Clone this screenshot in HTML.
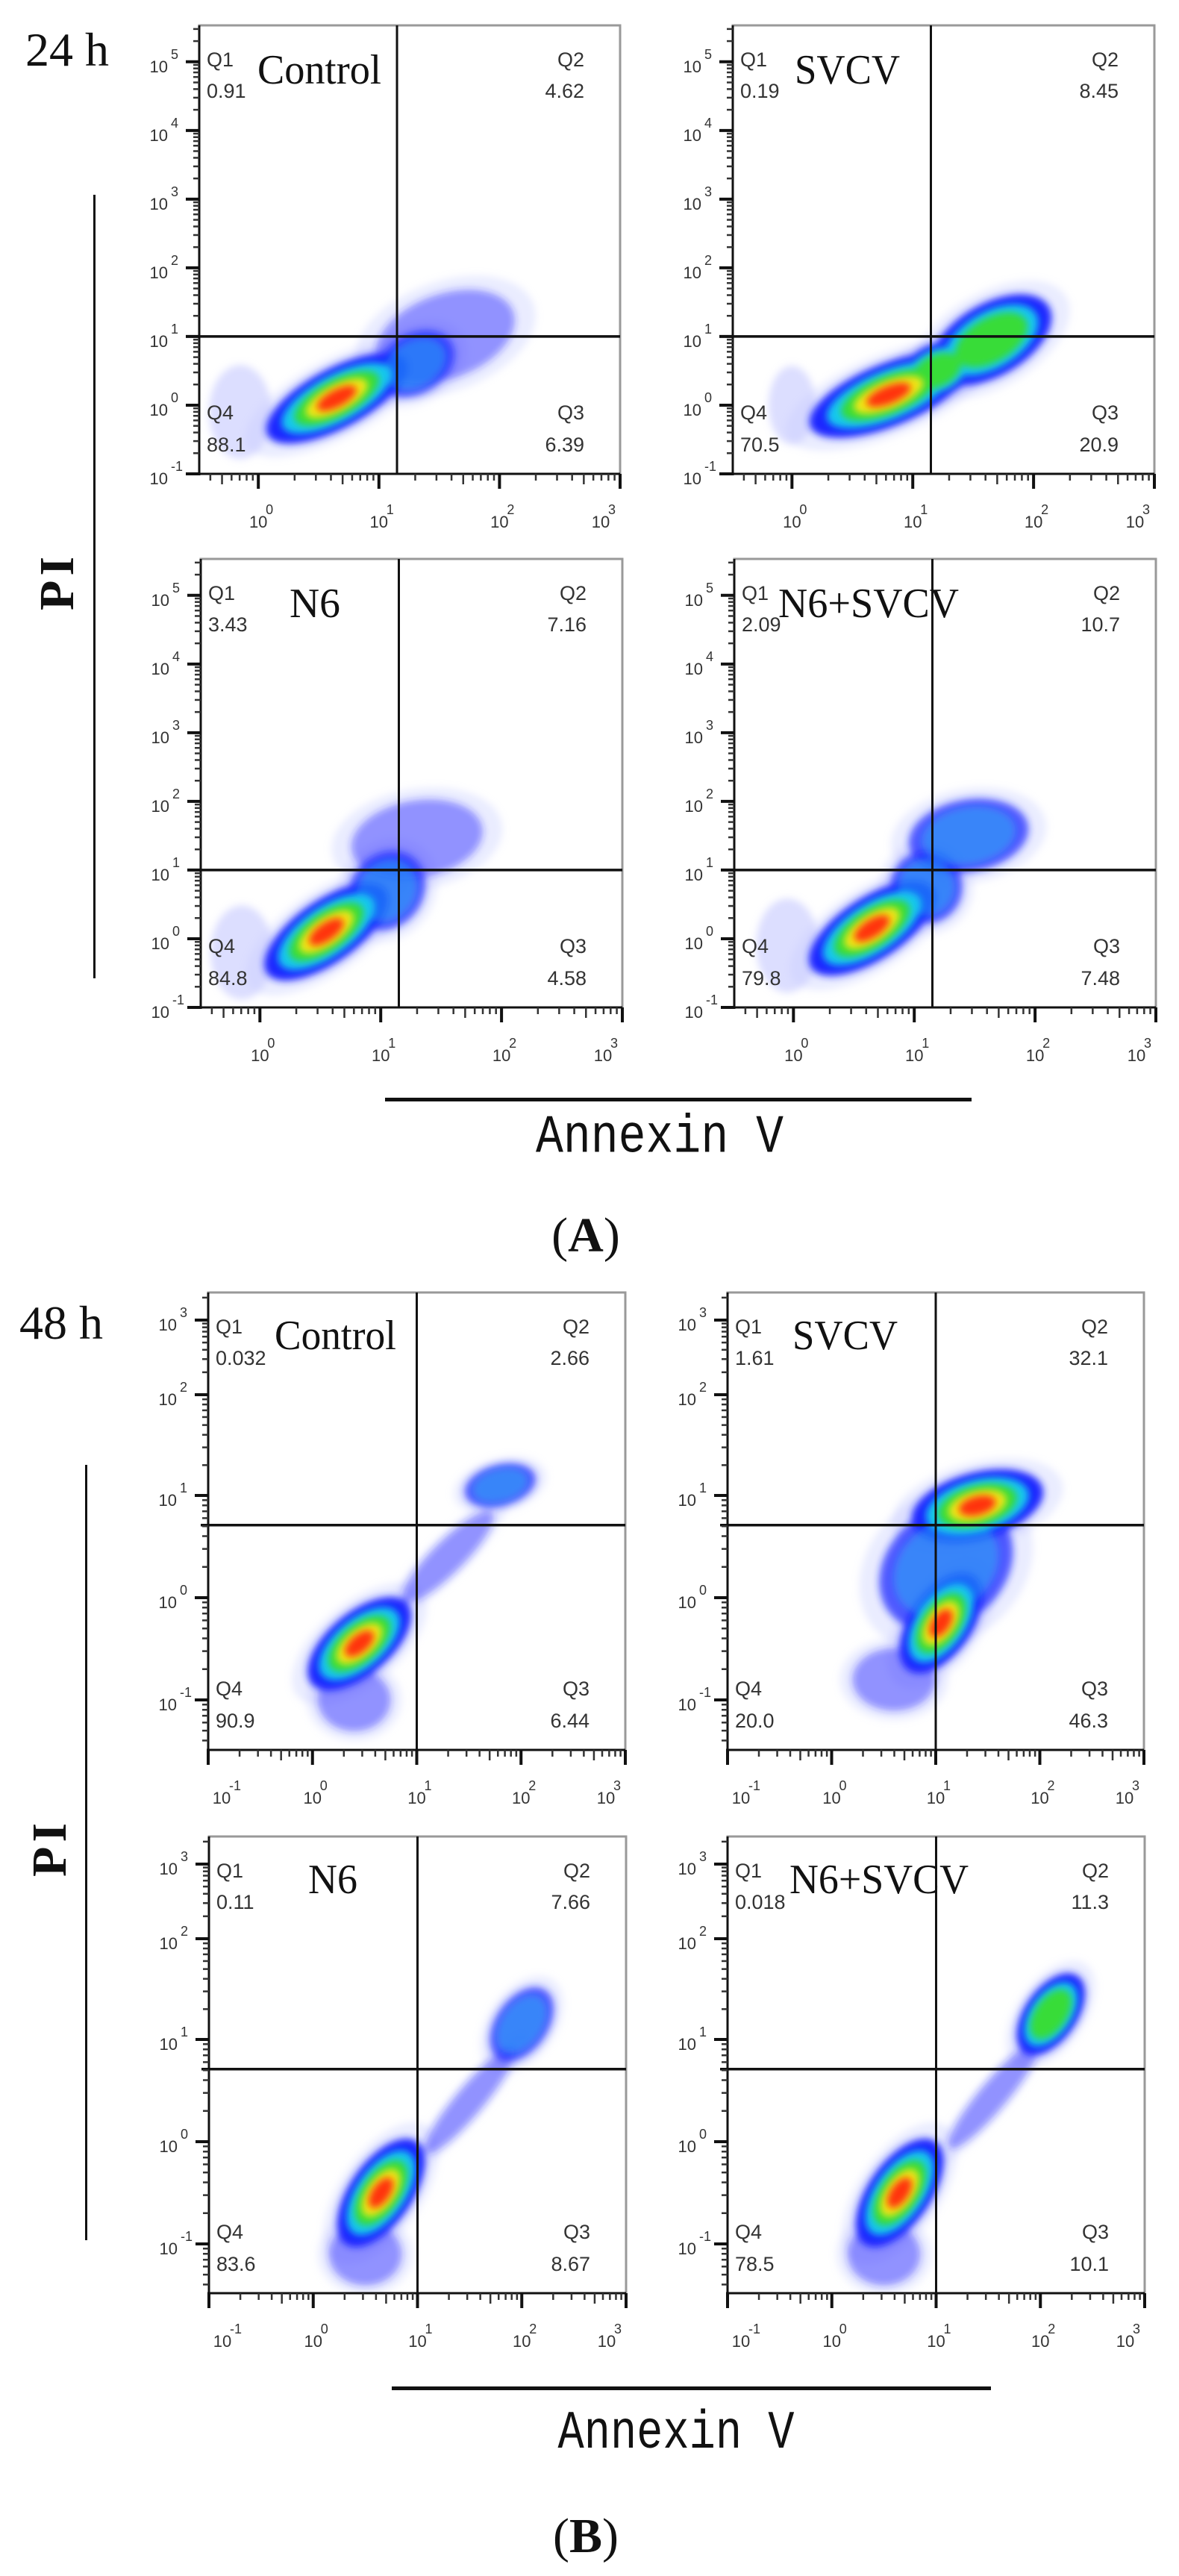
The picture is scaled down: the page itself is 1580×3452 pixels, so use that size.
<!DOCTYPE html>
<html><head><meta charset="utf-8"><style>
html,body{margin:0;padding:0;background:#fff;}
svg{display:block;}
.ser{font-family:"Liberation Serif",serif;}
.san{font-family:"Liberation Sans",sans-serif;}
.mono{font-family:"Liberation Mono",monospace;}
</style></head><body>
<svg id="fig" width="1580" height="3452" viewBox="0 0 1580 3452" xmlns="http://www.w3.org/2000/svg">
<defs>
<filter id="soft" x="-30%" y="-30%" width="160%" height="160%"><feGaussianBlur stdDeviation="5"/></filter>
</defs>
<text class="ser" x="34" y="88" font-size="64" fill="#111">24 h</text>
<text class="ser" x="26" y="1794" font-size="64" fill="#111">48 h</text>
<text class="ser" font-weight="bold" font-size="66" letter-spacing="6" text-anchor="middle" transform="translate(98,779) rotate(-90)" fill="#111">PI</text>
<text class="ser" font-weight="bold" font-size="66" letter-spacing="6" text-anchor="middle" transform="translate(88,2476) rotate(-90)" fill="#111">PI</text>
<rect x="125" y="261" width="3" height="1050" fill="#111"/>
<rect x="114" y="1963" width="3" height="1039" fill="#111"/>
<rect x="516" y="1471" width="786" height="5" fill="#111"/>
<rect x="525" y="3198" width="803" height="5" fill="#111"/>
<text class="mono" x="884" y="1543" font-size="58" text-anchor="middle" textLength="332" lengthAdjust="spacingAndGlyphs" fill="#111" transform="translate(0,-385) scale(1,1.25)">Annexin V</text>
<text class="mono" x="906" y="3280" font-size="58" text-anchor="middle" textLength="317" lengthAdjust="spacingAndGlyphs" fill="#111" transform="translate(0,-820) scale(1,1.25)">Annexin V</text>
<text class="ser" x="785" y="1677" font-size="66" text-anchor="middle" fill="#111">(<tspan font-weight="bold">A</tspan>)</text>
<text class="ser" x="785" y="3420" font-size="66" text-anchor="middle" fill="#111">(<tspan font-weight="bold">B</tspan>)</text>
<g id="plots"></g>
</svg>
<script>
// ---- data ----
const panelNames = ["Control","SVCV","N6","N6+SVCV","Control","SVCV","N6","N6+SVCV"];
const q1Values = ["0.91","0.19","3.43","2.09","0.032","1.61","0.11","0.018"];
const q2Values = ["4.62","8.45","7.16","10.7","2.66","32.1","7.66","11.3"];
const q3Values = ["6.39","20.9","4.58","7.48","6.44","46.3","8.67","10.1"];
const q4Values = ["88.1","70.5","84.8","79.8","90.9","20.0","83.6","78.5"];
const gateX = [1.15,1.15,1.15,1.15,1.0,1.0,1.0,1.0];
const gateY = [1,1,1,1,0.71,0.71,0.71,0.71];
const yTicks24 = [-1,0,1,2,3,4,5];
const xTicks24 = [0,1,2,3];
const yTicks48 = [-1,0,1,2,3];
const xTicks48 = [-1,0,1,2,3];
// density clusters (log10 units)
const clusterPanel = [0,0,0,0, 1,1,1,1, 2,2,2,2, 3,3,3,3, 4,4,4,4, 5,5,5,5, 6,6,6,6, 7,7,7,7];
const clusterX     = [0.65,1.55,1.3,-0.15, 0.8,1.65,1.2,0.0, 0.55,1.3,1.05,-0.15, 0.65,1.45,1.1,-0.05, 0.45,1.3,1.8,0.4, 1.05,1.4,1.1,0.6, 0.65,1.5,2.0,0.5, 0.65,1.55,2.1,0.5];
const clusterY     = [0.1,1.0,0.6,-0.1, 0.15,0.95,0.5,0.0, 0.1,1.45,0.7,-0.2, 0.15,1.5,0.75,-0.1, -0.45,0.4,1.1,-1.0, -0.25,0.9,0.3,-0.8, -0.5,0.4,1.15,-1.1, -0.5,0.45,1.25,-1.1];
const clusterRx    = [0.65,0.6,0.35,0.2, 0.7,0.55,0.35,0.15, 0.6,0.55,0.35,0.2, 0.6,0.5,0.3,0.2, 0.6,0.6,0.35,0.35, 0.55,0.65,0.7,0.4, 0.6,0.65,0.4,0.35, 0.6,0.65,0.45,0.35];
const clusterRy    = [0.25,0.35,0.25,0.3, 0.26,0.3,0.22,0.25, 0.26,0.32,0.3,0.3, 0.26,0.3,0.3,0.3, 0.3,0.15,0.2,0.3, 0.3,0.32,0.55,0.3, 0.3,0.13,0.25,0.3, 0.3,0.13,0.25,0.3];
const clusterAngle = [-28,-20,-30,0, -22,-30,-25,0, -35,-10,-50,0, -33,-10,-45,0, -40,-45,-15,0, -55,-15,-40,0, -55,-50,-55,0, -55,-50,-55,0];
const clusterLevel = [5,1,2,0, 5,3,3,0, 5,1,2,0, 5,2,2,0, 5,1,2,1, 5,5,2,1, 5,1,2,1, 5,1,3,1];

// ---- layout ----
const layout = [
 {L:267,R:831,T:34,B:635,h:24},{L:982,R:1547,T:34,B:635,h:24},
 {L:269,R:834,T:749,B:1350,h:24},{L:984,R:1549,T:749,B:1350,h:24},
 {L:279,R:838,T:1732,B:2345,h:48},{L:975,R:1533,T:1732,B:2345,h:48},
 {L:280,R:839,T:2461,B:3073,h:48},{L:975,R:1534,T:2461,B:3073,h:48}
];
const NS="http://www.w3.org/2000/svg";
function mk(tag, attrs, parent){const e=document.createElementNS(NS,tag);for(const k in attrs)e.setAttribute(k,attrs[k]);parent.appendChild(e);return e;}
const root=document.getElementById('plots');
const layerColors=["#c4c8ff","#1e28ff","#18c8f0","#38dc38","#f0e818","#ff3010"];
const layerScale=[1.3,1.0,0.78,0.6,0.44,0.28];

function makeScales(p){
  let xs, ys;
  if(p.h===24){
    xs=v=>p.L+(v+0.49)*(p.R-p.L)/3.49;
    const d=(p.B-p.T)/6.53;
    ys=v=>p.B-(v+1)*d;
  } else {
    xs=v=>p.L+(v+1)*(p.R-p.L)/4;
    const tv=[-1.49,-1,0,1,2,3,3.37], tr=[613,546,409,272,137,37,0];
    ys=v=>{let i=0;while(i<tv.length-2&&v>tv[i+1])i++;const f=(v-tv[i])/(tv[i+1]-tv[i]);return p.T+tr[i]+f*(tr[i+1]-tr[i]);};
  }
  return [xs,ys];
}
function layerOpacity(k,lvl){
  if(k===0) return lvl===0?0.6:0.35;
  if(lvl===1) return 0.45;
  if(lvl===2) return k===1?0.75:0.4;
  return 1;
}

layout.forEach((p,pi)=>{
  const [xs,ys]=makeScales(p);
  const g=mk('g',{},root);
  
  
  const cid='clip'+pi;
  const cp=mk('clipPath',{id:cid},g);
  mk('rect',{x:p.L,y:p.T,width:p.R-p.L,height:p.B-p.T},cp);
  const dens=mk('g',{'clip-path':'url(#'+cid+')'},g);
  
  
  const dx=xs(1)-xs(0);
  for(let k=0;k<6;k++){
    const lg=mk('g',{filter:'url(#soft)'},dens);
    
    
    for(let c=0;c<clusterPanel.length;c++){
      if(clusterPanel[c]!==pi) continue;
      const lvl=clusterLevel[c];
      if(k>lvl) continue;
      if(lvl<=2 && k>2) continue;
      const cx=xs(clusterX[c]), cy=ys(clusterY[c]);
      const e=mk('ellipse',{cx:cx,cy:cy,rx:clusterRx[c]*dx*layerScale[k],ry:clusterRy[c]*dx*layerScale[k],fill:layerColors[k],opacity:layerOpacity(k,lvl),transform:'rotate('+clusterAngle[c]+' '+cx+' '+cy+')'},lg);
      
      
    }
  }
  const fr=mk('rect',{x:p.L,y:p.T,width:p.R-p.L,height:p.B-p.T,fill:'none',stroke:'#999','stroke-width':3},g);
  
  
  const la=mk('line',{x1:p.L,y1:p.T,x2:p.L,y2:p.B+2,stroke:'#111','stroke-width':3},g);
  
  
  const ba=mk('line',{x1:p.L-2,y1:p.B,x2:p.R,y2:p.B,stroke:'#111','stroke-width':3},g);
  
  
  const gx=xs(gateX[pi]), gy=ys(gateY[pi]);
  const gv=mk('line',{x1:gx,y1:p.T,x2:gx,y2:p.B,stroke:'#111','stroke-width':3},g);
  
  
  const gh=mk('line',{x1:p.L-10,y1:gy,x2:p.R,y2:gy,stroke:'#111','stroke-width':3.5},g);
  
  
  const yt=p.h===24?yTicks24:yTicks48, xt=p.h===24?xTicks24:xTicks48;
  const yMinV=p.h===24?-1:-1.49, yMaxV=p.h===24?5.53:3.37;
  for(let d=Math.floor(yMinV);d<=Math.ceil(yMaxV);d++){
    for(let m=2;m<=9;m++){const v=d+Math.log10(m); if(v<yMinV||v>yMaxV) continue; const y=ys(v);
      const t=mk('line',{x1:p.L-8,y1:y,x2:p.L,y2:y,stroke:'#333','stroke-width':2.5},g);
      
      }
  }
  yt.forEach(v=>{const y=ys(v);
    const t=mk('line',{x1:p.L-18,y1:y,x2:p.L,y2:y,stroke:'#111','stroke-width':4},g);
    
    
    const tx=mk('text',{x:p.L-42,y:y+14,'font-size':22,'text-anchor':'end',fill:'#333',class:'san'},g);
    
    
    tx.textContent='10';
    const sp=mk('text',{x:p.L-38,y:y-4,'font-size':18,fill:'#333',class:'san'},g);
    
    
    sp.textContent=String(v);
  });
  const xMinV=p.h===24?-0.49:-1;
  for(let d=Math.floor(xMinV);d<3;d++){
    for(let m=2;m<=9;m++){const v=d+Math.log10(m); if(v<xMinV) continue; const x=xs(v);
      const t=mk('line',{x1:x,y1:p.B,x2:x,y2:p.B+(m===5?14:9),stroke:'#333','stroke-width':2.5},g);
      
      }
  }
  xt.forEach((v,i)=>{const x=xs(v);
    const t=mk('line',{x1:x,y1:p.B,x2:x,y2:p.B+20,stroke:'#111','stroke-width':4},g);
    
    
    let lx=x; if(i===xt.length-1) lx=x-26; if(p.h===48&&i===0) lx=x+18;
    const tx=mk('text',{x:lx,y:p.B+72,'font-size':22,'text-anchor':'middle',fill:'#333',class:'san'},g);
    
    
    tx.textContent='10';
    const sp=mk('text',{x:lx+10,y:p.B+54,'font-size':18,fill:'#333',class:'san'},g);
    
    
    sp.textContent=String(v);
  });
  const qs=[['Q1',p.L+10,p.T+55,'start','q1-label'],[q1Values[pi],p.L+10,p.T+97,'start','q1-percent'],
            ['Q2',p.R-48,p.T+55,'end','q2-label'],[q2Values[pi],p.R-48,p.T+97,'end','q2-percent'],
            ['Q4',p.L+10,p.B-73,'start','q4-label'],[q4Values[pi],p.L+10,p.B-30,'start','q4-percent'],
            ['Q3',p.R-48,p.B-73,'end','q3-label'],[q3Values[pi],p.R-48,p.B-30,'end','q3-percent']];
  qs.forEach(q=>{
    const t=mk('text',{x:q[1],y:q[2],'font-size':27,'text-anchor':q[3],fill:'#333',class:'san'},g);
    
    
    t.textContent=q[0];
  });
  const titleX=[345,1065,388,1043,368,1062,413,1058][pi];
  const titleW=[166,141,68,242,163,141,66,240][pi];
  const titleY=p.T+(p.h===24?78:76);
  const tt=mk('text',{x:titleX,y:titleY,'font-size':56,fill:'#111',class:'ser',textLength:titleW,lengthAdjust:'spacingAndGlyphs'},g);
  
  
  tt.textContent=panelNames[pi];
});
</script>
</body></html>
